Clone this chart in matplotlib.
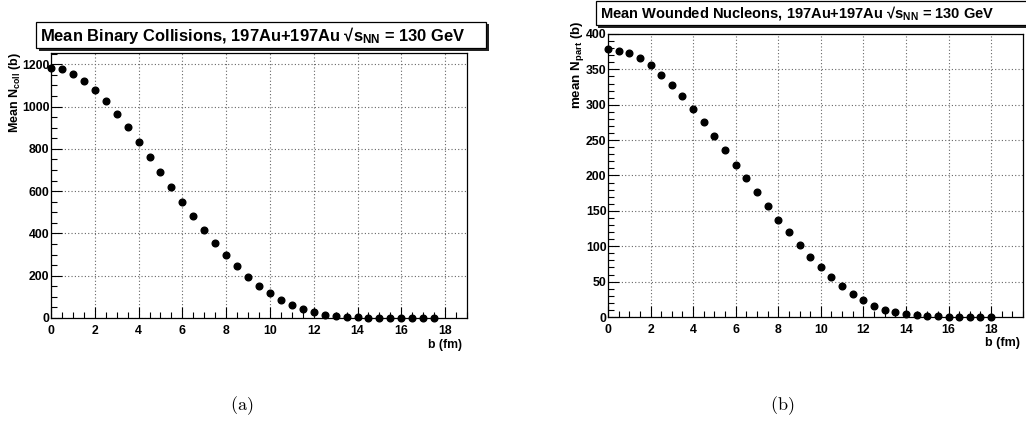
import matplotlib
matplotlib.use("Agg")
import matplotlib.pyplot as plt
from matplotlib.patches import Rectangle
from matplotlib.ticker import MultipleLocator

plt.rcParams['font.family'] = ['Liberation Sans', 'DejaVu Sans']
plt.rcParams['font.weight'] = 'bold'
plt.rcParams['mathtext.fontset'] = 'custom'
plt.rcParams['mathtext.rm'] = 'Liberation Sans:bold'
plt.rcParams['mathtext.it'] = 'Liberation Sans:bold'
plt.rcParams['mathtext.bf'] = 'Liberation Sans:bold'

# impact parameter b (fm)
b_coll = [0, 0.5, 1, 1.5, 2, 2.5, 3, 3.5, 4, 4.5, 5, 5.5, 6, 6.5, 7, 7.5, 8, 8.5,
          9, 9.5, 10, 10.5, 11, 11.5, 12, 12.5, 13, 13.5, 14, 14.5, 15, 15.5, 16,
          16.5, 17, 17.5]
n_coll = [1184, 1175, 1154, 1121, 1077, 1025, 965, 901, 833, 762, 691, 620, 550,
          480, 416, 354, 298, 244, 195, 153, 117, 87, 61, 41, 27, 16, 9, 5, 3, 2,
          1, 0.5, 0.3, 0.1, 0, 0]

b_part = [0, 0.5, 1, 1.5, 2, 2.5, 3, 3.5, 4, 4.5, 5, 5.5, 6, 6.5, 7, 7.5, 8, 8.5,
          9, 9.5, 10, 10.5, 11, 11.5, 12, 12.5, 13, 13.5, 14, 14.5, 15, 15.5, 16,
          16.5, 17, 17.5, 18]
n_part = [378.5, 376.5, 373, 366, 355.5, 342.5, 328.5, 312.5, 294.5, 275.5, 256,
          236, 215.5, 196, 176, 156.5, 137.5, 119.5, 101.5, 85.5, 70, 56.5, 44,
          33, 23.5, 16, 10.5, 6.5, 4, 2.5, 1.5, 1, 0.5, 0.3, 0.1, 0, 0]

W, H = 1026, 424
fig = plt.figure(figsize=(W / 100, H / 100), dpi=100)


def px(x0, y0, x1, y1):
    # pixel box (top-left origin) -> figure fraction rect
    return [x0 / W, 1 - y1 / H, (x1 - x0) / W, (y1 - y0) / H]


def root_axes(rect, xs, ys, xmax, ymax, ymajor, yminor):
    ax = fig.add_axes(rect)
    ax.plot(xs, ys, 'o', color='black', markersize=4.8, clip_on=False, zorder=3)
    ax.set_xlim(0, xmax)
    ax.set_ylim(0, ymax)
    ax.xaxis.set_major_locator(MultipleLocator(2))
    ax.xaxis.set_minor_locator(MultipleLocator(0.5))
    ax.yaxis.set_major_locator(MultipleLocator(ymajor))
    ax.yaxis.set_minor_locator(MultipleLocator(yminor))
    ax.tick_params(which='both', direction='in', top=False, right=False,
                   labelsize=8.8, width=0.8)
    ax.tick_params(axis='x', which='major', pad=5)
    ax.tick_params(axis='y', which='major', pad=1)
    ax.tick_params(which='major', length=8)
    ax.tick_params(which='minor', length=4)
    for lab in ax.get_xticklabels() + ax.get_yticklabels():
        lab.set_fontweight('bold')
    ax.grid(True, which='major', linestyle=(0, (1, 2)), color='#666666', linewidth=0.8)
    for s in ax.spines.values():
        s.set_linewidth(0.9)
    return ax


def title_box(x0, y0, x1, y1, text, size):
    sh = 2.5
    fig.add_artist(Rectangle((x0 / W + sh / W, 1 - (y1 + sh) / H), (x1 - x0) / W,
                             (y1 - y0) / H, transform=fig.transFigure,
                             facecolor='#222222', edgecolor='none', clip_on=False))
    fig.add_artist(Rectangle((x0 / W, 1 - y1 / H), (x1 - x0) / W, (y1 - y0) / H,
                             transform=fig.transFigure, facecolor='white',
                             edgecolor='black', linewidth=0.9, clip_on=False))
    fig.text((x0 + 4) / W, 1 - ((y0 + y1) / 2) / H, text, fontsize=size,
             fontweight='bold', ha='left', va='center')


# (a) binary collisions
ax1 = root_axes(px(51, 53, 467, 318), b_coll, n_coll, 19, 1253, 200, 50)
title_box(36, 22, 486, 48,
          'Mean Binary Collisions, 197Au+197Au \u221As$_{NN}$ = 130 GeV', 11.9)
fig.text(15 / W, 1 - 52 / H, 'Mean N$_{coll}$ (b)', rotation=90, fontsize=9,
         fontweight='bold', ha='center', va='top')
fig.text(462 / W, 1 - 345 / H, 'b (fm)', fontsize=8.8, fontweight='bold',
         ha='right', va='center')

# (b) wounded nucleons
ax2 = root_axes(px(608, 34, 1023, 317), b_part, n_part, 19.5, 400, 50, 10)
title_box(596, 1, 1040, 25,
          'Mean Wounded Nucleons, 197Au+197Au \u221As$_{NN}$ = 130 GeV', 10.5)
fig.text(577 / W, 1 - 20 / H, 'mean N$_{part}$ (b)', rotation=90, fontsize=9.6,
         fontweight='bold', ha='center', va='top')
fig.text(1020 / W, 1 - 343 / H, 'b (fm)', fontsize=9, fontweight='bold',
         ha='right', va='center')

fig.text(242 / W, 1 - 406 / H, r'$\mathrm{(a)}$', math_fontfamily='cm',
         fontsize=13, ha='center', va='center')
fig.text(782 / W, 1 - 406 / H, r'$\mathrm{(b)}$', math_fontfamily='cm',
         fontsize=13, ha='center', va='center')

fig.savefig('out.png', dpi=100)
